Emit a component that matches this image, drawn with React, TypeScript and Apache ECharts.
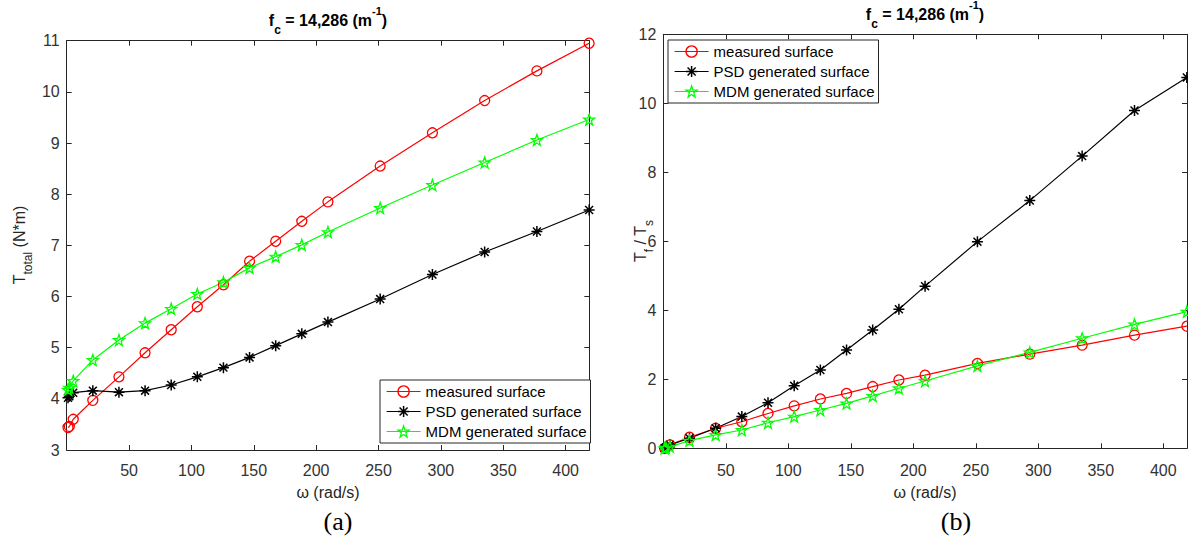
import React, { useEffect, useRef } from 'react';
import * as echarts from 'echarts';

// angular speed (rad/s)
const omega = [1.05, 2.09, 5.24, 20.94, 41.89, 62.83, 83.78, 104.72, 125.66, 146.61, 167.55, 188.5, 209.44, 251.33, 293.22, 335.1, 376.99, 418.88];

// (a) total torque T_total (N*m)
const torqueMeasured = [3.44, 3.46, 3.6, 3.97, 4.43, 4.9, 5.35, 5.8, 6.23, 6.69, 7.08, 7.47, 7.85, 8.55, 9.2, 9.83, 10.41, 10.95];
const torquePSD = [4.02, 4.05, 4.12, 4.16, 4.13, 4.16, 4.27, 4.43, 4.61, 4.81, 5.04, 5.27, 5.5, 5.95, 6.43, 6.87, 7.27, 7.69];
const torqueMDM = [4.18, 4.22, 4.35, 4.76, 5.15, 5.48, 5.76, 6.05, 6.28, 6.56, 6.78, 7.01, 7.26, 7.73, 8.18, 8.62, 9.06, 9.46];

// (b) ratio T_f / T_s
const ratioMeasured = [0.0, 0.02, 0.1, 0.32, 0.58, 0.77, 1.01, 1.23, 1.43, 1.59, 1.79, 1.98, 2.12, 2.46, 2.73, 2.99, 3.28, 3.54];
const ratioPSD = [0.0, 0.02, 0.1, 0.29, 0.58, 0.92, 1.32, 1.81, 2.27, 2.85, 3.43, 4.03, 4.7, 5.99, 7.18, 8.47, 9.79, 10.75];
const ratioMDM = [0.0, 0.02, 0.05, 0.22, 0.39, 0.53, 0.74, 0.92, 1.11, 1.3, 1.52, 1.74, 1.95, 2.39, 2.78, 3.19, 3.59, 3.96];

const seriesNames = ['measured surface', 'PSD generated surface', 'MDM generated surface'];
const seriesColors = ['#ff0000', '#000000', '#00ff00'];
const titleText = '{m|f}{s|c}{m| = 14,286 (m}{p|-1}{m|)}';
const xAxisName = 'ω (rad/s)';
const yNameA = '{m|T}{s|total}{m| (N*m)}';
const yNameB = '{m|T}{s|f}{m| / T}{s|s}';

const xRange = { min: 0, max: 419, interval: 50 };
const yRangeA = { min: 3, max: 11, interval: 1 };
const yRangeB = { min: 0, max: 12, interval: 2 };

const FONT = 'Liberation Sans, Arial, sans-serif';
const AX = '#262626';

function starPath(): string {
  const pts: string[] = [];
  for (let k = 0; k < 10; k++) {
    const r = k % 2 === 0 ? 1 : 0.4;
    const a = (-90 + k * 36) * Math.PI / 180;
    pts.push(`${(r * Math.cos(a)).toFixed(3)},${(r * Math.sin(a)).toFixed(3)}`);
  }
  return 'path://M' + pts.join('L') + 'Z';
}
const ASTERISK = 'path://M0,-1L0,1M-1,0L1,0M-0.72,-0.72L0.72,0.72M0.72,-0.72L-0.72,0.72';
const STAR = starPath();
const symbols = ['circle', ASTERISK, STAR];
const symbolSizes = [10, 11, 11];
const borderWidths = [1.3, 1.5, 1.3];
const CLEAR = 'rgba(255,255,255,0)';

function mkSeries(idx: number, ys: number[], g: number) {
  const color = seriesColors[idx];
  return {
    type: 'line',
    name: seriesNames[idx],
    xAxisIndex: g * 2,
    yAxisIndex: g * 2,
    data: omega.map((x, i) => [x, ys[i]]),
    symbol: symbols[idx],
    symbolSize: symbolSizes[idx],
    showSymbol: true,
    clip: false,
    lineStyle: { color, width: 1.2 },
    itemStyle: { color: CLEAR, borderColor: color, borderWidth: borderWidths[idx] },
    emphasis: { disabled: true },
  };
}

function xAxes(grid: number, labelMargin: number) {
  const common = {
    type: 'value',
    gridIndex: grid,
    min: xRange.min,
    max: xRange.max,
    interval: xRange.interval,
    splitLine: { show: false },
    axisLine: { show: true, onZero: false, lineStyle: { color: AX, width: 1 } },
    axisTick: { show: true, inside: true, length: 5, lineStyle: { color: AX } },
  };
  return [
    {
      ...common,
      position: 'bottom',
      axisLabel: {
        show: true,
        margin: labelMargin,
        fontSize: 16,
        fontFamily: FONT,
        color: '#333',
        formatter: (v: number) => (v === 0 ? '' : String(v)),
      },
    },
    { ...common, position: 'top', axisLabel: { show: false } },
  ];
}

function yAxes(grid: number, r: { min: number; max: number; interval: number }) {
  const common = {
    type: 'value',
    gridIndex: grid,
    min: r.min,
    max: r.max,
    interval: r.interval,
    splitLine: { show: false },
    axisLine: { show: true, onZero: false, lineStyle: { color: AX, width: 1 } },
    axisTick: { show: true, inside: true, length: 5, lineStyle: { color: AX } },
  };
  return [
    {
      ...common,
      position: 'left',
      axisLabel: { show: true, margin: 7, fontSize: 16, fontFamily: FONT, color: '#333' },
    },
    { ...common, position: 'right', axisLabel: { show: false } },
  ];
}

function legend(left: number, top: number) {
  return {
    orient: 'vertical',
    left,
    top,
    itemWidth: 34,
    itemHeight: 14,
    itemGap: 4,
    padding: [3.5, 4, 3.5, 6],
    borderColor: AX,
    borderWidth: 1,
    borderRadius: 0,
    backgroundColor: '#fff',
    selectedMode: false,
    textStyle: { fontSize: 15, fontFamily: FONT, color: '#000', lineHeight: 16 },
    data: seriesNames.map((name, i) => ({
      name,
      itemStyle: { color: CLEAR, borderColor: seriesColors[i], borderWidth: borderWidths[i] },
      lineStyle: { color: seriesColors[i], width: 1.2 },
    })),
  };
}

const titleRich = {
  m: { fontSize: 16, fontWeight: 'bold', fontFamily: FONT, fill: '#000', lineHeight: 30 },
  s: { fontSize: 12, fontWeight: 'bold', fontFamily: FONT, fill: '#000', lineHeight: 11, verticalAlign: 'bottom' },
  p: { fontSize: 11, fontWeight: 'bold', fontFamily: FONT, fill: '#000', lineHeight: 16, verticalAlign: 'top' },
};
const nameRich = {
  m: { fontSize: 16, fontFamily: FONT, fill: '#262626', lineHeight: 30 },
  s: { fontSize: 12, fontFamily: FONT, fill: '#262626', lineHeight: 9, verticalAlign: 'bottom' },
};

function txt(x: number, y: number, text: string, rich: any, rotation = 0) {
  return {
    type: 'text',
    x,
    y,
    rotation,
    silent: true,
    style: { text, rich, align: 'center', verticalAlign: 'middle', textAlign: 'center', textVerticalAlign: 'middle' },
  };
}
function plain(x: number, y: number, text: string, fontSize: number, fontFamily: string, fill: string) {
  return {
    type: 'text',
    x,
    y,
    silent: true,
    style: { text, fontSize, fontFamily, fill, align: 'center', verticalAlign: 'middle', textAlign: 'center', textVerticalAlign: 'middle' },
  };
}

export default function App() {
  const ref = useRef<HTMLDivElement>(null);
  useEffect(() => {
    document.body.style.margin = '0';
    const chart = echarts.init(ref.current!, null, { renderer: 'svg' });
    chart.setOption({
      animation: false,
      backgroundColor: '#fff',
      grid: [
        { left: 66.7, top: 40.7, width: 522.6, height: 409.3 },
        { left: 663.3, top: 34.3, width: 523.7, height: 414 },
      ],
      xAxis: [...xAxes(0, 12), ...xAxes(1, 14)],
      yAxis: [...yAxes(0, yRangeA), ...yAxes(1, yRangeB)],
      legend: [legend(380, 380), legend(668, 40)],
      series: [
        mkSeries(0, torqueMeasured, 0),
        mkSeries(1, torquePSD, 0),
        mkSeries(2, torqueMDM, 0),
        mkSeries(0, ratioMeasured, 1),
        mkSeries(1, ratioPSD, 1),
        mkSeries(2, ratioMDM, 1),
      ],
      graphic: [
        txt(328, 20.8, titleText, titleRich),
        txt(925, 14.5, titleText, titleRich),
        txt(19, 245, yNameA, nameRich, Math.PI / 2),
        txt(640, 241, yNameB, nameRich, Math.PI / 2),
        plain(328, 492, xAxisName, 16, FONT, '#262626'),
        plain(925, 492, xAxisName, 16, FONT, '#262626'),
        plain(338, 521, '(a)', 26, 'Liberation Serif, Times New Roman, serif', '#000'),
        plain(956, 521, '(b)', 26, 'Liberation Serif, Times New Roman, serif', '#000'),
      ],
    });
    return () => chart.dispose();
  }, []);
  return <div ref={ref} style={{ width: 1188, height: 540 }} />;
}
